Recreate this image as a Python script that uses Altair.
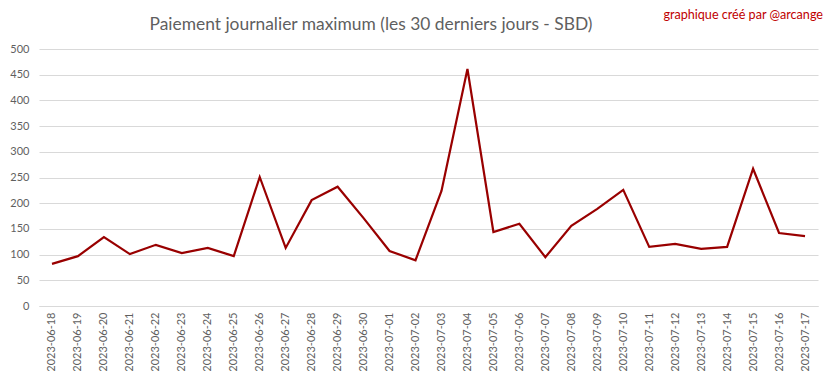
import altair as alt
import pandas as pd

dates = [
    "2023-06-18", "2023-06-19", "2023-06-20", "2023-06-21", "2023-06-22",
    "2023-06-23", "2023-06-24", "2023-06-25", "2023-06-26", "2023-06-27",
    "2023-06-28", "2023-06-29", "2023-06-30", "2023-07-01", "2023-07-02",
    "2023-07-03", "2023-07-04", "2023-07-05", "2023-07-06", "2023-07-07",
    "2023-07-08", "2023-07-09", "2023-07-10", "2023-07-11", "2023-07-12",
    "2023-07-13", "2023-07-14", "2023-07-15", "2023-07-16", "2023-07-17",
]
payouts = [
    82, 97, 134, 101, 119, 103, 113, 97, 251, 113,
    206, 232, 171, 107, 89, 224, 461, 144, 160, 95,
    156, 189, 226, 115, 121, 111, 115, 267, 142, 136,
]
y_ticks = [0, 50, 100, 150, 200, 250, 300, 350, 400, 450, 500]

title_text = "Paiement journalier maximum (les 30 derniers jours - SBD)"
credit_text = "graphique créé par @arcange"

df = pd.DataFrame({"date": dates, "payout": payouts})

FONT = "Lato"
GREY = "#5f5f5f"

line = alt.Chart(df).mark_line(color="#990000", strokeWidth=2.2).encode(
    x=alt.X(
        "date:N",
        sort=dates,
        scale=alt.Scale(type="point", padding=0.5),
        axis=alt.Axis(
            title=None,
            labelAngle=-90,
            labelFont=FONT,
            labelFontSize=11,
            labelColor=GREY,
            labelPadding=6,
            ticks=False,
            domain=True,
            domainColor="#d9d9d9",
            grid=False,
        ),
    ),
    y=alt.Y(
        "payout:Q",
        scale=alt.Scale(domain=[0, 500], nice=False),
        axis=alt.Axis(
            title=None,
            values=y_ticks,
            labelFont=FONT,
            labelFontSize=11,
            labelColor=GREY,
            labelPadding=10,
            ticks=False,
            domain=False,
            gridColor="#d9d9d9",
            gridWidth=1,
        ),
    ),
)

title = alt.Chart(pd.DataFrame({"t": [title_text]})).mark_text(
    align="center", baseline="middle", font=FONT, fontSize=17.4, color=GREY
).encode(
    text="t:N",
    x=alt.value(332),
    y=alt.value(-24),
)

credit = alt.Chart(pd.DataFrame({"t": [credit_text]})).mark_text(
    align="right", baseline="middle", font=FONT, fontSize=12.6, color="#c00000"
).encode(
    text="t:N",
    x=alt.value(784),
    y=alt.value(-34),
)

chart = alt.layer(line, title, credit).properties(
    width=779,
    height=257,
    padding={"left": 31, "top": 41, "right": 7, "bottom": 65},
    autosize=alt.AutoSizeParams(type="none"),
).configure_view(stroke=None)

chart.save("out.html", embed_options={"renderer": "svg", "actions": False})
